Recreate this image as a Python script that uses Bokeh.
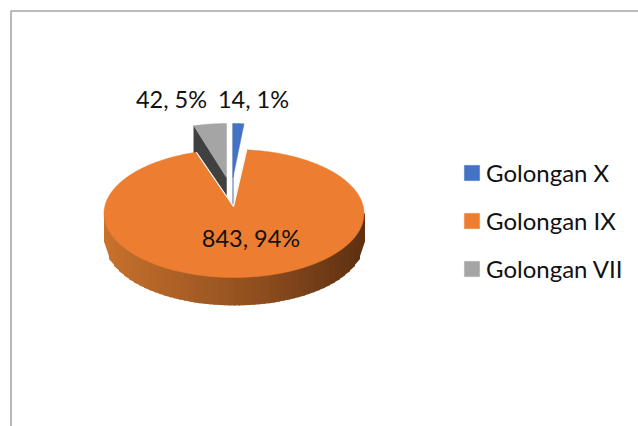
import numpy as np
from bokeh.embed import file_html
from bokeh.models import Legend, LegendItem, Range1d
from bokeh.plotting import figure
from bokeh.resources import INLINE
from bokeh.core.properties import value

categories = ["Golongan X", "Golongan IX", "Golongan VII"]
values = [14, 843, 42]
labels = ["14, 1%", "843, 94%", "42, 5%"]
colors = ["#4472C4", "#ED7D31", "#A5A5A5"]
wall_colors = ["#2F5597", None, "#404040"]

FONT = "Lato"
CX, CY, RX, RY = 233.5, 213.0, 130.0, 64.0
DEPTH = 28.0
EXP_CX = {0: 232.5, 2: 226.0}
EXP_CY, EXP_RX, EXP_RY = 177.0, 113.0, 54.0

p = figure(width=638, height=426, output_backend="svg", toolbar_location=None,
           x_range=Range1d(0, 638), y_range=Range1d(426, 0),
           x_axis_type=None, y_axis_type=None, min_border=0,
           outline_line_color=None, background_fill_color="white",
           border_fill_color="white")

# outer chart frame
p.line([10.5, 10.5, 638], [426, 10.5, 10.5], line_color="#A6A6A6", line_width=1.6)

angles = np.cumsum([0] + values) / sum(values) * 2 * np.pi


def rim(start, end, cx, cy, rx, ry, n=160):
    t = np.linspace(start, end, n)
    return cx + rx * np.sin(t), cy - ry * np.cos(t)


# exploded small slices
renderers = {}
for i in (0, 2):
    s, e = angles[i], angles[i + 1]
    cx = EXP_CX[i]
    xr, yr = rim(s, e, cx, EXP_CY, EXP_RX, EXP_RY, 30)
    wx = [xr[0], cx, cx, xr[0]]
    wy = [yr[0], EXP_CY, EXP_CY + DEPTH, yr[0] + DEPTH]
    p.patch(wx, wy, fill_color=wall_colors[i], line_color=wall_colors[i], line_width=0.5)
    renderers[i] = p.patch(list(xr) + [cx], list(yr) + [EXP_CY], fill_color=colors[i],
                           line_color=colors[i], line_width=0.5)

# orange side wall with a stepped gradient
N = 52
wx = np.linspace(CX - RX, CX + RX, N + 1)
wy = CY + RY * np.sqrt(np.clip(1 - ((wx - CX) / RX) ** 2, 0, 1))
left_c, mid_c, right_c = np.array([0xC8, 0x72, 0x2D]), np.array([0x8E, 0x4E, 0x1F]), np.array([0x5E, 0x30, 0x11])
xs, ys, cs = [], [], []
for k in range(N):
    f = (k + 0.5) / N
    c = left_c + (mid_c - left_c) * f / 0.6 if f < 0.6 else mid_c + (right_c - mid_c) * (f - 0.6) / 0.4
    c = "#%02X%02X%02X" % tuple(int(v) for v in c)
    xs.append([wx[k], wx[k + 1] + 1, wx[k + 1] + 1, wx[k]])
    ys.append([CY, CY, wy[k + 1] + DEPTH, wy[k] + DEPTH])
    cs.append(c)
p.patches(xs, ys, fill_color=cs, line_color=None)

# orange top face, apex pulled slightly up
APEX_X, APEX_Y = 233.0, 206.0
xr, yr = rim(angles[1], angles[2], CX, CY, RX, RY, 240)
renderers[1] = p.patch(list(xr) + [APEX_X], list(yr) + [APEX_Y], fill_color=colors[1],
                       line_color=colors[1], line_width=0.5)
p.line([xr[0], APEX_X, xr[-1]], [yr[0], APEX_Y, yr[-1]], line_color="white", line_width=1.2)

# data labels
p.text([253, 250.5, 171], [98.5, 237.5, 98.5], text=labels, text_font=value(FONT),
       text_font_size="23.5px", text_color="#111111", text_align="center",
       text_baseline="alphabetic")

legend = Legend(items=[LegendItem(label=c, renderers=[renderers[i]]) for i, c in enumerate(categories)],
                location=(462, 143), orientation="vertical",
                glyph_width=19, glyph_height=19, label_standoff=5, spacing=19,
                label_height=29, label_text_font=FONT, label_text_font_size="24px",
                label_text_color="#111111", background_fill_alpha=0, border_line_alpha=0,
                padding=0, margin=0)
p.add_layout(legend, "center")

open("out.html", "w").write(file_html(p, INLINE))
